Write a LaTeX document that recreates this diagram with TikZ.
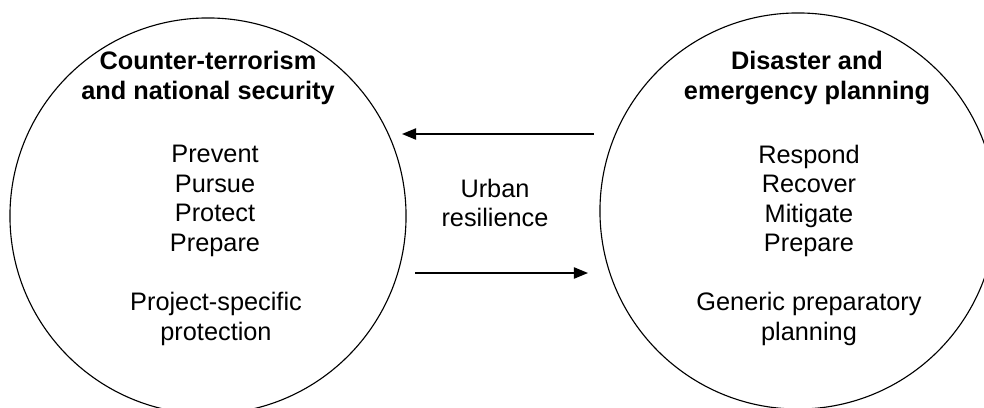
\documentclass[tikz,border=0pt]{standalone}
\usepackage{fontspec}
\setmainfont{Liberation Sans}
\usetikzlibrary{arrows.meta}
\tikzset{
	ring/.style={draw, circle, line width=0.8pt, inner sep=0pt, minimum size=9.9cm},
	txt/.style={align=center, font=\fontsize{18}{21}\selectfont},
	hd/.style={txt, font=\fontsize{18}{21}\selectfont\bfseries},
	flow/.style={line width=1pt, -{Triangle[length=10pt,width=8pt]}}
}

\begin{document}
\begin{tikzpicture}[x=0.025cm, y=-0.025cm]
		%%%%% START %%%%%
		\useasboundingbox (0, 0) rectangle (984, 407);
		\clip (0, 0) rectangle (984, 407);
		
		\node[ring] (ct) at (208, 216) {};
		\node[hd] (cthead) at (208, 78) {Counter-terrorism\\and national security};
		\node[txt] (ctlist) at (215, 201) {Prevent\\Pursue\\Protect\\Prepare};
		\node[txt] (ctproj) at (216, 319) {Project-specific\\protection};
		
		\node[ring] (dp) at (798, 211) {};
		\node[hd] (dphead) at (807, 78) {Disaster and\\emergency planning};
		\node[txt] (dplist) at (809, 201) {Respond\\Recover\\Mitigate\\Prepare};
		\node[txt] (dpgen) at (809, 319) {Generic preparatory\\planning};
		
		\node[txt] (urban) at (495, 203) {Urban\\resilience};
		
		\coordinate (topstart) at (594, 134);
		\coordinate (topend) at (402, 134);
		\coordinate (botstart) at (415, 273);
		\coordinate (botend) at (588, 273);
		\draw[flow] (topstart) -- (topend);
		\draw[flow] (botstart) -- (botend);
		%%%%% END %%%%%
	\end{tikzpicture}
\end{document}
